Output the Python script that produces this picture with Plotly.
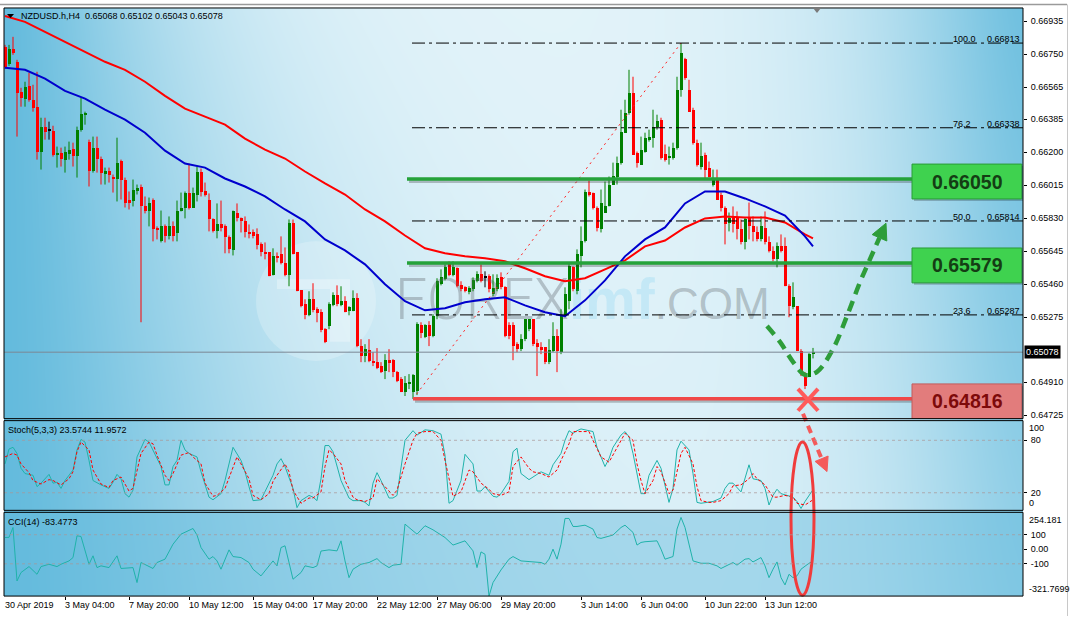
import base64
import struct
import zlib

import numpy as np
import plotly.graph_objects as go

# ------------------------------------------------------------------ data
title_text = "NZDUSD.h,H4  0.65068 0.65102 0.65043 0.65078"
stoch_title = "Stoch(5,3,3) 23.5744 11.9572"
cci_title = "CCI(14) -83.4773"

bar_open = [
    0.66792, 0.66697, 0.66781, 0.66708, 0.66540, 0.66501, 0.66573, 0.66495, 0.66456, 0.66204,
    0.66344, 0.66321, 0.66321, 0.66187, 0.66198, 0.66159, 0.66193, 0.66221, 0.66181, 0.66327,
    0.66411, 0.66260, 0.66097, 0.66226, 0.66165, 0.66081, 0.66097, 0.66064, 0.66053, 0.66153,
    0.66047, 0.65935, 0.65924, 0.65985, 0.66008, 0.65896, 0.65868, 0.65935, 0.65773, 0.65705,
    0.65784, 0.65733, 0.65784, 0.65745, 0.65868, 0.65885, 0.65974, 0.65890, 0.65963, 0.66092,
    0.65985, 0.65935, 0.65823, 0.65756, 0.65795, 0.65784, 0.65722, 0.65649, 0.65862, 0.65834,
    0.65817, 0.65750, 0.65750, 0.65739, 0.65683, 0.65638, 0.65638, 0.65509, 0.65616, 0.65627,
    0.65577, 0.65509, 0.65801, 0.65638, 0.65425, 0.65347, 0.65285, 0.65375, 0.65319, 0.65302,
    0.65207, 0.65224, 0.65341, 0.65397, 0.65341, 0.65364, 0.65308, 0.65308, 0.65381, 0.65112,
    0.65056, 0.65089, 0.65028, 0.65022, 0.65000, 0.64972, 0.65033, 0.65033, 0.64966, 0.64927,
    0.64854, 0.64905, 0.64854, 0.64860, 0.65229, 0.65162, 0.65229, 0.65168, 0.65280, 0.65459,
    0.65487, 0.65582, 0.65509, 0.65549, 0.65453, 0.65442, 0.65414, 0.65431, 0.65476, 0.65515,
    0.65498, 0.65504, 0.65403, 0.65431, 0.65498, 0.65442, 0.65229, 0.65229, 0.65123, 0.65095,
    0.65151, 0.65207, 0.65263, 0.65129, 0.65106, 0.65106, 0.65022, 0.65084, 0.65168, 0.65078,
    0.65280, 0.65364, 0.65554, 0.65420, 0.65616, 0.65700, 0.65980, 0.65974, 0.65890, 0.65767,
    0.65862, 0.65896, 0.66019, 0.66064, 0.66142, 0.66310, 0.66422, 0.66534, 0.66198, 0.66131,
    0.66204, 0.66271, 0.66282, 0.66344, 0.66383, 0.66193, 0.66170, 0.66170, 0.66226, 0.66551,
    0.66725, 0.66551, 0.66439, 0.66254, 0.66120, 0.66187, 0.66114, 0.66019, 0.66047, 0.65963,
    0.65890, 0.65806, 0.65840, 0.65834, 0.65767, 0.65694, 0.65834, 0.65784, 0.65750, 0.65711,
    0.65778, 0.65694, 0.65644, 0.65599, 0.65672, 0.65672, 0.65448, 0.65330, 0.65336, 0.65084,
    0.64955, 0.64938, 0.65068,
]
bar_high = [
    0.66803, 0.66803, 0.66848, 0.66719, 0.66562, 0.66596, 0.66646, 0.66579, 0.66652, 0.66394,
    0.66394, 0.66372, 0.66349, 0.66232, 0.66226, 0.66232, 0.66260, 0.66254, 0.66344, 0.66506,
    0.66428, 0.66271, 0.66288, 0.66288, 0.66176, 0.66114, 0.66114, 0.66075, 0.66282, 0.66159,
    0.66058, 0.65980, 0.66047, 0.66019, 0.66019, 0.65952, 0.65946, 0.65941, 0.65784, 0.65873,
    0.65795, 0.65840, 0.65812, 0.65929, 0.65974, 0.65980, 0.66137, 0.66002, 0.66120, 0.66109,
    0.66030, 0.65969, 0.65829, 0.65913, 0.65929, 0.65795, 0.65733, 0.65873, 0.65913, 0.65834,
    0.65840, 0.65795, 0.65767, 0.65773, 0.65694, 0.65694, 0.65638, 0.65661, 0.65638, 0.65728,
    0.65666, 0.65823, 0.65823, 0.65638, 0.65425, 0.65375, 0.65420, 0.65465, 0.65330, 0.65319,
    0.65213, 0.65358, 0.65414, 0.65453, 0.65448, 0.65392, 0.65336, 0.65425, 0.65409, 0.65151,
    0.65123, 0.65151, 0.65078, 0.65101, 0.65022, 0.65067, 0.65095, 0.65039, 0.64972, 0.64938,
    0.64944, 0.64955, 0.64955, 0.65246, 0.65246, 0.65235, 0.65252, 0.65291, 0.65493, 0.65543,
    0.65571, 0.65588, 0.65588, 0.65554, 0.65476, 0.65448, 0.65448, 0.65498, 0.65532, 0.65571,
    0.65532, 0.65515, 0.65515, 0.65515, 0.65526, 0.65448, 0.65246, 0.65246, 0.65134, 0.65179,
    0.65263, 0.65263, 0.65263, 0.65151, 0.65134, 0.65106, 0.65151, 0.65246, 0.65207, 0.65319,
    0.65442, 0.65582, 0.65560, 0.65655, 0.65784, 0.65991, 0.66041, 0.65974, 0.65896, 0.65991,
    0.66036, 0.66064, 0.66142, 0.66176, 0.66439, 0.66495, 0.66663, 0.66624, 0.66204, 0.66288,
    0.66310, 0.66327, 0.66439, 0.66411, 0.66394, 0.66243, 0.66232, 0.66254, 0.66624, 0.66813,
    0.66730, 0.66607, 0.66450, 0.66271, 0.66254, 0.66198, 0.66148, 0.66103, 0.66103, 0.65974,
    0.65896, 0.65862, 0.65896, 0.65868, 0.65823, 0.65834, 0.65918, 0.65840, 0.65784, 0.65840,
    0.65868, 0.65728, 0.65672, 0.65694, 0.65739, 0.65722, 0.65459, 0.65470, 0.65336, 0.65095,
    0.64966, 0.65073, 0.65102,
]
bar_low = [
    0.66669, 0.66685, 0.66747, 0.66288, 0.66456, 0.66456, 0.66484, 0.66428, 0.66159, 0.66103,
    0.66271, 0.66271, 0.66176, 0.66114, 0.66120, 0.66086, 0.66159, 0.66120, 0.66058, 0.66316,
    0.66355, 0.66008, 0.66086, 0.66086, 0.66019, 0.66019, 0.66030, 0.65974, 0.65924, 0.65935,
    0.65890, 0.65879, 0.65896, 0.65963, 0.65246, 0.65857, 0.65784, 0.65700, 0.65711, 0.65694,
    0.65694, 0.65711, 0.65700, 0.65700, 0.65868, 0.65829, 0.65879, 0.65890, 0.65924, 0.65952,
    0.65952, 0.65756, 0.65750, 0.65717, 0.65756, 0.65633, 0.65633, 0.65621, 0.65812, 0.65750,
    0.65722, 0.65717, 0.65717, 0.65655, 0.65616, 0.65599, 0.65504, 0.65509, 0.65582, 0.65571,
    0.65504, 0.65448, 0.65627, 0.65420, 0.65330, 0.65263, 0.65280, 0.65302, 0.65246, 0.65190,
    0.65129, 0.65207, 0.65336, 0.65336, 0.65336, 0.65302, 0.65285, 0.65308, 0.65106, 0.65022,
    0.65022, 0.65022, 0.65000, 0.64983, 0.64961, 0.64927, 0.64966, 0.64938, 0.64910, 0.64854,
    0.64832, 0.64871, 0.64816, 0.64837, 0.65157, 0.65157, 0.65112, 0.65162, 0.65263, 0.65453,
    0.65481, 0.65504, 0.65504, 0.65442, 0.65420, 0.65414, 0.65403, 0.65420, 0.65470, 0.65470,
    0.65442, 0.65414, 0.65392, 0.65420, 0.65431, 0.65162, 0.65151, 0.65033, 0.65078, 0.65084,
    0.65140, 0.65196, 0.65112, 0.64944, 0.65067, 0.65011, 0.65011, 0.65078, 0.64966, 0.65067,
    0.65274, 0.65319, 0.65420, 0.65403, 0.65554, 0.65694, 0.65952, 0.65879, 0.65756, 0.65750,
    0.65862, 0.65896, 0.66019, 0.66019, 0.66131, 0.66310, 0.66411, 0.66187, 0.66114, 0.66131,
    0.66198, 0.66260, 0.66226, 0.66327, 0.66159, 0.66148, 0.66131, 0.66159, 0.66215, 0.66512,
    0.66607, 0.66428, 0.66243, 0.66120, 0.66103, 0.66047, 0.66058, 0.66008, 0.65935, 0.65868,
    0.65683, 0.65756, 0.65750, 0.65711, 0.65683, 0.65655, 0.65711, 0.65700, 0.65700, 0.65700,
    0.65683, 0.65638, 0.65588, 0.65554, 0.65638, 0.65448, 0.65274, 0.65319, 0.65084, 0.64944,
    0.64871, 0.64938, 0.65043,
]
bar_close = [
    0.66680, 0.66781, 0.66758, 0.66534, 0.66506, 0.66568, 0.66495, 0.66450, 0.66204, 0.66344,
    0.66316, 0.66321, 0.66187, 0.66198, 0.66165, 0.66204, 0.66215, 0.66181, 0.66327, 0.66417,
    0.66422, 0.66097, 0.66226, 0.66165, 0.66086, 0.66097, 0.66075, 0.66053, 0.66142, 0.66047,
    0.65918, 0.65918, 0.65991, 0.66002, 0.65896, 0.65868, 0.65918, 0.65767, 0.65767, 0.65784,
    0.65733, 0.65784, 0.65733, 0.65873, 0.65885, 0.65974, 0.65890, 0.65974, 0.66092, 0.65980,
    0.65963, 0.65823, 0.65756, 0.65795, 0.65778, 0.65722, 0.65655, 0.65868, 0.65829, 0.65812,
    0.65750, 0.65745, 0.65728, 0.65677, 0.65638, 0.65633, 0.65504, 0.65616, 0.65610, 0.65577,
    0.65509, 0.65806, 0.65627, 0.65420, 0.65336, 0.65285, 0.65375, 0.65313, 0.65297, 0.65201,
    0.65134, 0.65347, 0.65397, 0.65347, 0.65364, 0.65302, 0.65330, 0.65381, 0.65112, 0.65056,
    0.65095, 0.65028, 0.65022, 0.64989, 0.64966, 0.65033, 0.65022, 0.64966, 0.64916, 0.64854,
    0.64905, 0.64910, 0.64949, 0.65235, 0.65185, 0.65229, 0.65168, 0.65280, 0.65476, 0.65498,
    0.65554, 0.65509, 0.65554, 0.65448, 0.65431, 0.65420, 0.65437, 0.65481, 0.65515, 0.65476,
    0.65498, 0.65431, 0.65437, 0.65493, 0.65442, 0.65168, 0.65168, 0.65112, 0.65095, 0.65151,
    0.65263, 0.65263, 0.65123, 0.65106, 0.65089, 0.65022, 0.65089, 0.65168, 0.65084, 0.65280,
    0.65403, 0.65560, 0.65431, 0.65627, 0.65700, 0.65980, 0.65963, 0.65890, 0.65778, 0.65918,
    0.65901, 0.66019, 0.66069, 0.66142, 0.66316, 0.66422, 0.66534, 0.66187, 0.66142, 0.66215,
    0.66282, 0.66288, 0.66344, 0.66377, 0.66170, 0.66159, 0.66176, 0.66226, 0.66551, 0.66758,
    0.66618, 0.66428, 0.66254, 0.66131, 0.66181, 0.66103, 0.66064, 0.66047, 0.65935, 0.65890,
    0.65795, 0.65834, 0.65795, 0.65767, 0.65694, 0.65823, 0.65784, 0.65750, 0.65711, 0.65784,
    0.65694, 0.65644, 0.65599, 0.65672, 0.65644, 0.65448, 0.65336, 0.65386, 0.65084, 0.64966,
    0.64888, 0.65067, 0.65078,
]

# moving averages read every 5th bar (plus the last bar)
ma_idx = list(range(0, 201, 5)) + [202]
ma_fast_blue = [
    0.66674, 0.66663, 0.66613, 0.66545, 0.66501, 0.66439, 0.66383, 0.66310, 0.66209, 0.66137,
    0.66114, 0.66053, 0.66008, 0.65952, 0.65879, 0.65812, 0.65711, 0.65649, 0.65571, 0.65459,
    0.65364, 0.65313, 0.65325, 0.65358, 0.65375, 0.65386, 0.65341, 0.65302, 0.65280, 0.65369,
    0.65481, 0.65616, 0.65711, 0.65778, 0.65913, 0.65980, 0.65980, 0.65941, 0.65896, 0.65845,
    0.65728, 0.65672,
]
ma_slow_red = [
    0.66965, 0.66932, 0.66876, 0.66820, 0.66764, 0.66708, 0.66663, 0.66596, 0.66517, 0.66445,
    0.66400, 0.66355, 0.66277, 0.66215, 0.66165, 0.66092, 0.66025, 0.65963, 0.65879, 0.65812,
    0.65733, 0.65661, 0.65633, 0.65616, 0.65605, 0.65588, 0.65549, 0.65504, 0.65476, 0.65493,
    0.65543, 0.65593, 0.65672, 0.65705, 0.65778, 0.65829, 0.65840, 0.65834, 0.65834, 0.65806,
    0.65739, 0.65717,
]

# oscillator vertices (bar index, value)
stoch_k_pts = [
    (0, 53), (1, 70), (2, 72), (3, 65), (4, 48), (5, 42), (7, 40), (8, 27), (9, 31), (11, 41),
    (12, 31), (13, 32), (14, 25), (15, 34), (17, 46), (18, 69), (19, 81), (20, 78), (21, 57),
    (22, 34), (24, 29), (26, 25), (27, 32), (28, 41), (29, 36), (30, 19), (31, 15), (32, 23),
    (33, 61), (35, 81), (36, 78), (37, 69), (39, 50), (40, 29), (41, 29), (42, 50), (43, 57),
    (44, 80), (45, 69), (46, 65), (47, 63), (48, 61), (49, 44), (51, 15), (52, 12), (53, 15),
    (54, 19), (55, 34), (57, 72), (59, 57), (60, 44), (61, 27), (62, 11), (64, 12), (65, 21),
    (66, 31), (67, 40), (68, 53), (69, 59), (70, 50), (72, 25), (73, 3), (74, 11), (76, 17),
    (77, 15), (78, 11), (79, 36), (80, 74), (81, 74), (82, 67), (83, 50), (84, 34), (86, 14),
    (87, 11), (89, 11), (90, 9), (91, 5), (92, 31), (93, 43), (94, 34), (96, 14), (97, 14),
    (98, 17), (99, 46), (100, 80), (102, 91), (103, 86), (105, 92), (107, 91), (109, 87),
    (110, 63), (111, 8), (112, 11), (114, 34), (115, 64), (117, 53), (118, 22), (119, 22),
    (120, 27), (122, 16), (123, 15), (124, 19), (126, 33), (127, 67), (128, 71), (129, 42),
    (131, 35), (132, 38), (134, 44), (136, 40), (137, 52), (139, 65), (140, 80), (141, 91),
    (142, 88), (143, 91), (144, 93), (146, 91), (147, 90), (148, 72), (150, 50), (151, 59),
    (152, 72), (154, 86), (155, 90), (156, 84), (157, 65), (159, 19), (160, 19), (161, 40),
    (163, 57), (164, 48), (166, 9), (167, 25), (168, 69), (169, 79), (171, 69), (172, 42),
    (173, 9), (174, 8), (176, 9), (177, 10), (179, 14), (180, 25), (181, 31), (182, 31),
    (184, 21), (185, 36), (186, 52), (187, 36), (189, 34), (190, 25), (191, 6), (192, 17),
    (193, 24), (194, 19), (196, 16), (197, 15), (198, 10), (199, 2), (200, 10), (202, 23.5744),
]
stoch_d_pts = [
    (0, 61), (2, 65), (3, 63), (4, 53), (6, 43), (7, 34), (9, 30), (11, 35), (12, 34), (14, 29),
    (16, 36), (17, 44), (18, 67), (19, 78), (21, 69), (22, 46), (24, 30), (26, 26), (27, 34),
    (29, 38), (31, 22), (32, 25), (34, 65), (36, 78), (37, 76), (38, 63), (40, 40), (41, 34),
    (42, 42), (44, 63), (46, 66), (47, 61), (49, 53), (50, 31), (52, 16), (53, 17), (55, 25),
    (57, 50), (58, 61), (59, 53), (61, 36), (62, 17), (64, 12), (66, 19), (67, 33), (68, 40),
    (70, 53), (71, 44), (72, 23), (74, 8), (76, 14), (77, 14), (79, 21), (80, 50), (81, 69),
    (82, 65), (84, 53), (85, 34), (87, 15), (88, 12), (90, 10), (92, 14), (93, 36), (95, 27),
    (97, 17), (98, 23), (100, 53), (102, 80), (103, 88), (105, 90), (107, 90), (109, 80),
    (110, 57), (112, 16), (114, 21), (116, 46), (117, 44), (119, 31), (121, 24), (122, 19),
    (124, 17), (126, 21), (127, 50), (129, 61), (131, 48), (132, 44), (134, 42), (136, 38),
    (138, 46), (139, 57), (141, 76), (142, 90), (144, 90), (146, 90), (147, 80), (149, 61),
    (151, 55), (152, 63), (154, 80), (155, 88), (157, 80), (158, 53), (159, 34), (160, 19),
    (162, 34), (163, 50), (164, 44), (166, 19), (167, 23), (169, 65), (170, 72), (172, 53),
    (173, 27), (174, 11), (176, 9), (177, 9), (179, 11), (181, 19), (182, 28), (184, 29),
    (186, 36), (187, 42), (188, 36), (190, 29), (192, 15), (193, 15), (195, 17), (197, 15),
    (198, 8), (200, 6), (202, 11.9572),
]
cci_pts = [
    (0, 81), (1, 82), (2, 150), (3, -218), (4, -160), (6, -119), (8, -172), (9, -119),
    (11, -103), (13, -119), (14, -103), (16, -80), (17, -57), (18, 93), (19, 88), (21, -103),
    (22, -45), (23, -126), (24, -114), (26, -126), (28, -45), (29, -132), (32, -126),
    (33, -229), (34, -91), (35, -103), (37, -132), (38, -91), (40, -68), (42, 35), (44, 104),
    (47, 143), (48, 98), (49, 12), (51, -68), (52, -50), (53, -80), (54, -137), (56, -4),
    (57, -50), (59, -57), (61, -91), (62, -137), (64, -183), (66, -114), (67, -80), (68, -114),
    (69, 12), (70, 24), (71, -91), (72, -206), (74, -160), (75, -114), (77, -126), (78, -114),
    (79, -12), (81, -4), (83, -11), (84, 58), (85, -80), (86, -195), (87, -137), (89, -103),
    (91, -91), (93, -64), (94, -91), (96, -126), (97, -109), (99, -103), (100, 173), (101, 150),
    (103, 104), (105, 162), (107, 134), (110, 81), (112, 29), (115, 58), (117, -11),
    (118, -126), (119, -18), (120, -34), (121, -321.77), (122, -229), (124, -142), (126, -68),
    (127, -50), (129, -80), (134, -91), (135, -103), (136, -68), (137, 1), (138, -68), (139, 35),
    (140, 212), (141, 212), (142, 157), (143, 157), (145, 166), (147, 139), (148, 81), (149, 75),
    (151, 93), (152, 98), (154, 150), (155, 166), (157, 116), (158, 29), (159, 47), (160, 52),
    (163, 58), (164, 1), (165, -68), (167, -50), (168, 139), (169, 219), (170, 150), (171, 24),
    (172, -80), (174, -96), (176, -96), (178, -114), (179, -132), (182, -91), (183, -109),
    (185, -68), (186, -64), (187, -87), (189, -57), (190, -114), (191, -195), (192, -137),
    (193, -87), (194, -195), (195, -245), (196, -172), (197, -195), (198, -183), (199, -137),
    (201, -96), (202, -83.4773),
]

price_ticks = [0.66935, 0.66750, 0.66565, 0.66385, 0.66200, 0.66015, 0.65830, 0.65645,
               0.65460, 0.65275, 0.64910, 0.64725]
stoch_ticks = [80, 20]
cci_ticks = [100, 0, -100]
cci_min, cci_max = -321.7699, 254.181

time_labels = ["30 Apr 2019", "3 May 04:00", "7 May 20:00", "10 May 12:00", "15 May 04:00",
               "17 May 20:00", "22 May 12:00", "27 May 06:00", "29 May 20:00", "3 Jun 14:00",
               "6 Jun 04:00", "10 Jun 22:00", "13 Jun 12:00"]
time_label_idx = [0, 15, 31, 46, 62, 77, 93, 108, 124, 144, 159, 175, 190]

last_price = 0.65078
fib_low, fib_high = 0.64816, 0.66813
fib_low_idx, fib_high_idx = 102, 169
fib_ratios = [1.0, 0.762, 0.5, 0.236]
resistance_levels = [0.66050, 0.65579]
support_level = 0.64816

# hand-drawn annotations (bar index, price)
green_arrow_idx = [190.5, 193.75, 197, 200, 203, 207, 210.5, 213.75, 216.25, 218.6]
green_arrow_price = [0.65225, 0.65136, 0.65024, 0.64951, 0.64968, 0.65096, 0.65281, 0.65471,
                     0.65600, 0.65720]
green_head = [(220.25, 0.65802), (220.45, 0.65702), (216.8, 0.65738)]
red_arrow = [(199.5, 0.64733), (204.15, 0.64480)]
red_head = [(205.5, 0.64408), (205.775, 0.64495), (202.525, 0.64465)]
cross_center = (200.75, 0.64811)

# ------------------------------------------------------------------ layout geometry
W, H = 1071, 618
X_DOM = [4 / W, 1023 / W]
MAIN_DOM = [1 - 420 / H, 1 - 8 / H]
STO_DOM = [1 - 512 / H, 1 - 422 / H]
CCI_DOM = [1 - 598 / H, 1 - 514 / H]
X_RANGE = [-0.25, 254.5]
MAIN_RANGE = [0.64705, 0.67010]
STO_RANGE = [-0.1, 102.5]
CCI_RANGE = [cci_min, cci_max]
FONT = "Liberation Sans"
LEVEL_X0, BOX_X0 = 100.5, 226.75


def to_paper(v, rng, dom):
    return dom[0] + (v - rng[0]) / (rng[1] - rng[0]) * (dom[1] - dom[0])


def make_png(rgb):
    h, w, _ = rgb.shape
    raw = b"".join(b"\x00" + rgb[r].tobytes() for r in range(h))

    def chunk(tag, data):
        return (struct.pack(">I", len(data)) + tag + data
                + struct.pack(">I", zlib.crc32(tag + data) & 0xFFFFFFFF))

    png = (b"\x89PNG\r\n\x1a\n"
           + chunk(b"IHDR", struct.pack(">IIBBBBB", w, h, 8, 2, 0, 0, 0))
           + chunk(b"IDAT", zlib.compress(raw, 9))
           + chunk(b"IEND", b""))
    return "data:image/png;base64," + base64.b64encode(png).decode()


def background_uri():
    w, h = 1019, 590
    u = (np.arange(w) + 0.5) / w
    v = (np.arange(h) + 0.5) / h
    U, V = np.meshgrid(u, v)
    light = np.array([228, 244, 250], float)
    dark = np.array([100, 187, 221], float)
    sL = 0.17 + 0.15 * V
    wL = np.exp(-(U / sL) ** 1.4)
    aR = 0.9 - 0.3 * V
    wR = aR * np.exp(-((1 - U) / 0.15) ** 1.4)
    wB = 0.45 * (V > 0.856)
    wgt = 1 - (1 - wL) * (1 - wR) * (1 - wB)
    rgb = light[None, None, :] * (1 - wgt[..., None]) + dark[None, None, :] * wgt[..., None]
    return make_png(np.clip(rgb, 0, 255).astype(np.uint8))


fig = go.Figure()

# watermark (first trace so it sits under the candles)
wm_text = ("FOREX<span style='font-family:Liberation Sans;font-weight:bold;"
           "fill:rgba(80,195,240,0.45)'>imf</span>"
           "<span style='font-family:Liberation Sans;font-size:44px'>.COM</span>")
fig.add_trace(go.Scatter(
    x=[97.5], y=[0.65343], mode="text", text=[wm_text], textposition="middle right",
    textfont=dict(family="Roboto", size=57, weight=300, color="rgba(110,118,124,0.4)"),
    hoverinfo="skip", xaxis="x", yaxis="y"))

# candles
n = len(bar_open)
groups = {"up": [], "down": [], "doji": []}
for i in range(n):
    if bar_close[i] > bar_open[i]:
        groups["up"].append(i)
    elif bar_close[i] < bar_open[i]:
        groups["down"].append(i)
    else:
        groups["doji"].append(i)
colors = {"up": "#008000", "down": "#ff0000", "doji": "#000000"}
for key, sel in groups.items():
    xs, ys = [], []
    for i in sel:
        xs += [i, i, None]
        ys += [bar_low[i], bar_high[i], None]
    fig.add_trace(go.Scatter(x=xs, y=ys, mode="lines", line=dict(color=colors[key], width=1),
                             hoverinfo="skip", xaxis="x", yaxis="y"))
for key, sel in groups.items():
    base = [min(bar_open[i], bar_close[i]) for i in sel]
    hgt = [max(abs(bar_close[i] - bar_open[i]), 0.00005) for i in sel]
    fig.add_trace(go.Bar(x=sel, y=hgt, base=base, width=0.75,
                         marker=dict(color=colors[key], line=dict(width=0)),
                         hoverinfo="skip", xaxis="x", yaxis="y"))

# moving averages
fig.add_trace(go.Scatter(x=ma_idx, y=ma_slow_red, mode="lines", line=dict(color="#ff0000", width=2),
                         hoverinfo="skip", xaxis="x", yaxis="y"))
fig.add_trace(go.Scatter(x=ma_idx, y=ma_fast_blue, mode="lines", line=dict(color="#0000cd", width=2),
                         hoverinfo="skip", xaxis="x", yaxis="y"))

# fib diagonal
fig.add_trace(go.Scatter(x=[fib_low_idx, fib_high_idx], y=[fib_low, fib_high], mode="lines",
                         line=dict(color="#ff2020", width=1, dash="2px,4px"),
                         hoverinfo="skip", xaxis="x", yaxis="y"))

# green dashed curved arrow
fig.add_trace(go.Scatter(x=green_arrow_idx, y=green_arrow_price, mode="lines",
                         line=dict(color="#2e9d3a", width=4.5, dash="11px,7px", shape="spline"),
                         hoverinfo="skip", xaxis="x", yaxis="y"))
fig.add_trace(go.Scatter(x=[p[0] for p in green_head] + [green_head[0][0]],
                         y=[p[1] for p in green_head] + [green_head[0][1]],
                         mode="lines", fill="toself", fillcolor="#2e9d3a",
                         line=dict(color="#2e9d3a", width=1), hoverinfo="skip", xaxis="x", yaxis="y"))

# stochastic
fig.add_trace(go.Scatter(x=[p[0] for p in stoch_k_pts], y=[p[1] for p in stoch_k_pts], mode="lines",
                         line=dict(color="#20b2aa", width=1), hoverinfo="skip", xaxis="x2", yaxis="y2"))
fig.add_trace(go.Scatter(x=[p[0] for p in stoch_d_pts], y=[p[1] for p in stoch_d_pts], mode="lines",
                         line=dict(color="#ff0000", width=1, dash="3px,2px"),
                         hoverinfo="skip", xaxis="x2", yaxis="y2"))
# CCI
fig.add_trace(go.Scatter(x=[p[0] for p in cci_pts], y=[p[1] for p in cci_pts], mode="lines",
                         line=dict(color="#20b2aa", width=1), hoverinfo="skip", xaxis="x3", yaxis="y3"))

# ------------------------------------------------------------------ shapes
shapes = []
# logo behind the watermark
shapes.append(dict(type="circle", xref="x", yref="y", x0=62.75, x1=92.75, y0=0.65029, y1=0.65701,
                   fillcolor="rgba(255,255,255,0.22)", line=dict(width=0), layer="below"))
shapes.append(dict(type="rect", xref="x", yref="y", x0=68, x1=86.25, y0=0.65432, y1=0.65488,
                   fillcolor="rgba(255,255,255,0.3)", line=dict(width=0), layer="below"))
shapes.append(dict(type="rect", xref="x", yref="y", x0=81.25, x1=86.25, y0=0.65136, y1=0.65432,
                   fillcolor="rgba(255,255,255,0.3)", line=dict(width=0), layer="below"))
# current price line
shapes.append(dict(type="line", xref="x domain", yref="y", x0=0, x1=1, y0=last_price, y1=last_price,
                   line=dict(color="#7b8794", width=1)))
# fibonacci levels
for r in fib_ratios:
    lvl = fib_low + r * (fib_high - fib_low)
    shapes.append(dict(type="line", xref="x", yref="y", x0=101.75, x1=X_RANGE[1], y0=lvl, y1=lvl,
                       line=dict(color="#000000", width=1, dash="13px,4px,3px,4px")))
# level lines with shadows
px_price = (MAIN_RANGE[1] - MAIN_RANGE[0]) / 412.0
for lvl, col, x0 in [(resistance_levels[0], "#25a23a", LEVEL_X0),
                     (resistance_levels[1], "#25a23a", LEVEL_X0),
                     (support_level, "#f04848", fib_low_idx)]:
    shapes.append(dict(type="line", xref="x", yref="y", x0=x0 + 0.5, x1=BOX_X0, y0=lvl - 2.5 * px_price,
                       y1=lvl - 2.5 * px_price, line=dict(color="rgba(40,40,40,0.28)", width=3)))
    shapes.append(dict(type="line", xref="x", yref="y", x0=x0, x1=BOX_X0, y0=lvl, y1=lvl,
                       line=dict(color=col, width=3.5)))
# level boxes
for lvl, fill, border in [(resistance_levels[0], "#3fd24f", "#2a9c38"),
                          (resistance_levels[1], "#3fd24f", "#2a9c38"),
                          (support_level, "#e27c7c", "#c25b5b")]:
    yc = lvl - 2.5 * px_price
    shapes.append(dict(type="rect", xref="x", yref="y", x0=BOX_X0 + 0.5, x1=X_RANGE[1],
                       y0=yc - 19.5 * px_price, y1=yc + 15.5 * px_price,
                       fillcolor="rgba(0,0,0,0.22)", line=dict(width=0)))
    shapes.append(dict(type="rect", xref="x", yref="y", x0=BOX_X0, x1=X_RANGE[1] - 0.3,
                       y0=yc - 17.5 * px_price, y1=yc + 17.5 * px_price,
                       fillcolor=fill, line=dict(color=border, width=1)))
# red cross
cx, cy = cross_center
for sgn in (1, -1):
    shapes.append(dict(type="line", xref="x", yref="y", x0=cx - 2.5, x1=cx + 2.5,
                       y0=cy - sgn * 11 * px_price, y1=cy + sgn * 11 * px_price,
                       line=dict(color="#ff5b5b", width=4)))
# red dashed arrow crossing into the oscillator pane
ra = [(x, to_paper(p, MAIN_RANGE, MAIN_DOM)) for x, p in red_arrow]
shapes.append(dict(type="line", xref="x", yref="paper", x0=ra[0][0], y0=ra[0][1], x1=ra[1][0], y1=ra[1][1],
                   line=dict(color="#f45a5a", width=4, dash="8px,5px")))
rh = [(x, to_paper(p, MAIN_RANGE, MAIN_DOM)) for x, p in red_head]
shapes.append(dict(type="path", xref="x", yref="paper",
                   path="M {} {} L {} {} L {} {} Z".format(rh[0][0], rh[0][1], rh[1][0], rh[1][1], rh[2][0], rh[2][1]),
                   fillcolor="#f45a5a", line=dict(color="#f45a5a", width=1)))
# red ellipse over the oscillators
shapes.append(dict(type="circle", xref="x", yref="paper", x0=196.5, x1=202.25,
                   y0=to_paper(-316, CCI_RANGE, CCI_DOM), y1=to_paper(78, STO_RANGE, STO_DOM),
                   line=dict(color="#f03c3c", width=3)))
# oscillator levels
for v in stoch_ticks:
    shapes.append(dict(type="line", xref="x2 domain", yref="y2", x0=0, x1=1, y0=v, y1=v,
                       line=dict(color="rgba(170,150,150,0.7)", width=1, dash="3px,3px")))
for v in (100, -100):
    shapes.append(dict(type="line", xref="x3 domain", yref="y3", x0=0, x1=1, y0=v, y1=v,
                       line=dict(color="rgba(170,150,150,0.7)", width=1, dash="3px,3px")))
# pane frames
for xr, yr in [("x", "y"), ("x2", "y2"), ("x3", "y3")]:
    shapes.append(dict(type="rect", xref=xr + " domain", yref=yr + " domain", x0=0, x1=1, y0=0, y1=1,
                       line=dict(color="#000000", width=1)))
# window chrome
shapes.append(dict(type="line", xref="paper", yref="paper", x0=0, x1=1067 / W, y0=1 - 4.5 / H, y1=1 - 4.5 / H,
                   line=dict(color="#9a9a9a", width=1.5)))
shapes.append(dict(type="line", xref="paper", yref="paper", x0=1067.5 / W, x1=1067.5 / W, y0=0, y1=1 - 4.5 / H,
                   line=dict(color="#c8c8c8", width=1)))
shapes.append(dict(type="path", xref="paper", yref="paper",
                   path="M {} {} L {} {} L {} {} Z".format(7 / W, 1 - 14 / H, 14 / W, 1 - 14 / H, 10.5 / W, 1 - 18 / H),
                   fillcolor="#000000", line=dict(width=0)))
shapes.append(dict(type="path", xref="paper", yref="paper",
                   path="M {} {} L {} {} L {} {} Z".format(813 / W, 1 - 8 / H, 821 / W, 1 - 8 / H, 817 / W, 1 - 13 / H),
                   fillcolor="#7a7a7a", line=dict(width=0)))

# ------------------------------------------------------------------ annotations
ann = []
small = dict(family=FONT, size=9, color="#000000")
ann.append(dict(text=title_text, xref="paper", yref="paper", x=19 / W, y=1 - 16 / H, xanchor="left",
                yanchor="middle", showarrow=False, font=small))
ann.append(dict(text=stoch_title, xref="paper", yref="paper", x=6 / W, y=1 - 431 / H, xanchor="left",
                yanchor="middle", showarrow=False, font=small))
ann.append(dict(text=cci_title, xref="paper", yref="paper", x=6 / W, y=1 - 524 / H, xanchor="left",
                yanchor="middle", showarrow=False, font=small))
for lbl, ix in zip(time_labels, time_label_idx):
    ann.append(dict(text=lbl, xref="x3", yref="paper", x=ix, y=1 - 607 / H, xanchor="left",
                    yanchor="middle", xshift=-2, showarrow=False, font=small))
for r in fib_ratios:
    lvl = fib_low + r * (fib_high - fib_low)
    ann.append(dict(text="{:.1f}".format(r * 100), xref="x", yref="y", x=236.5, y=lvl, xanchor="left",
                    yanchor="bottom", yshift=-3, showarrow=False, font=small))
    ann.append(dict(text="{:.5f}".format(lvl), xref="x", yref="y", x=X_RANGE[1], y=lvl, xanchor="right",
                    yanchor="bottom", yshift=-3, xshift=-1, showarrow=False, font=small))
for lvl, tcol in [(resistance_levels[0], "#143d14"), (resistance_levels[1], "#143d14"),
                  (support_level, "#7d0a0a")]:
    ann.append(dict(text="<b>{:.5f}</b>".format(lvl), xref="x", yref="y", x=(BOX_X0 + X_RANGE[1]) / 2,
                    y=lvl, yshift=-2.5, xanchor="center", yanchor="middle", showarrow=False,
                    font=dict(family=FONT, size=19.5, color=tcol)))
ann.append(dict(text="{:.5f}".format(last_price), xref="paper", yref="y", x=X_DOM[1], y=last_price,
                xanchor="left", yanchor="middle", xshift=1, showarrow=False, bgcolor="#000000",
                borderpad=1, font=dict(family=FONT, size=9, color="#ffffff")))
ann.append(dict(text="100", xref="paper", yref="y2", x=X_DOM[1], y=100, xanchor="left", yanchor="middle",
                xshift=4, yshift=-5, showarrow=False, font=small))
ann.append(dict(text="0", xref="paper", yref="y2", x=X_DOM[1], y=0, xanchor="left", yanchor="middle",
                xshift=4, yshift=7, showarrow=False, font=small))
ann.append(dict(text="{:.3f}".format(cci_max), xref="paper", yref="y3", x=X_DOM[1], y=cci_max,
                xanchor="left", yanchor="middle", xshift=4, yshift=-8, showarrow=False, font=small))
ann.append(dict(text="{:.4f}".format(cci_min), xref="paper", yref="y3", x=X_DOM[1], y=cci_min,
                xanchor="left", yanchor="middle", xshift=4, yshift=7, showarrow=False, font=small))

# ------------------------------------------------------------------ axes & layout
xcommon = dict(range=X_RANGE, domain=X_DOM, showgrid=False, zeroline=False, showline=False,
               showticklabels=False, fixedrange=True)
ycommon = dict(side="right", showgrid=False, zeroline=False, showline=False, ticks="outside",
               ticklen=3, tickcolor="#000000", tickwidth=1, tickfont=small, ticklabelstandoff=2,
               fixedrange=True)

fig.update_layout(
    width=W, height=H, margin=dict(l=0, r=0, t=0, b=0),
    paper_bgcolor="#ffffff", plot_bgcolor="rgba(0,0,0,0)",
    showlegend=False, barmode="overlay", bargap=0,
    xaxis=dict(**xcommon, anchor="y"),
    xaxis2=dict(**xcommon, anchor="y2", matches="x"),
    xaxis3=dict(**xcommon, anchor="y3", matches="x", ticks="outside", ticklen=3,
                tickcolor="#000000", tickvals=time_label_idx[1:]),
    yaxis=dict(**ycommon, domain=MAIN_DOM, range=MAIN_RANGE, anchor="x",
               tickvals=price_ticks, ticktext=["{:.5f}".format(v) for v in price_ticks]),
    yaxis2=dict(**ycommon, domain=STO_DOM, range=STO_RANGE, anchor="x2",
                tickvals=stoch_ticks, ticktext=[str(v) for v in stoch_ticks]),
    yaxis3=dict(**ycommon, domain=CCI_DOM, range=CCI_RANGE, anchor="x3",
                tickvals=cci_ticks, ticktext=["100", "0.00", "-100"]),
    shapes=shapes,
    annotations=ann,
    images=[dict(source=background_uri(), xref="paper", yref="paper", x=X_DOM[0], y=MAIN_DOM[1],
                 sizex=X_DOM[1] - X_DOM[0], sizey=MAIN_DOM[1] - CCI_DOM[0], sizing="stretch",
                 xanchor="left", yanchor="top", layer="below")],
)

fig.write_html("out.html", config={"displayModeBar": False},
               post_script="document.body.style.margin='0';document.body.style.overflow='hidden';")
